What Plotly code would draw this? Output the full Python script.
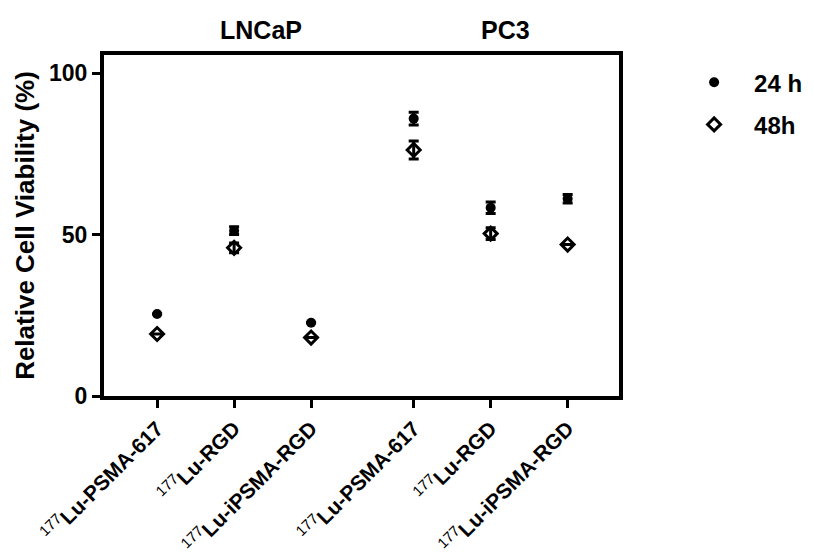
import plotly.graph_objects as go

categories = ["Lu-PSMA-617", "Lu-RGD", "Lu-iPSMA-RGD",
              "Lu-PSMA-617", "Lu-RGD", "Lu-iPSMA-RGD"]
isotope = "177"
x_pos = [0, 1, 2, 3.333, 4.333, 5.333]
groups = ["LNCaP", "PC3"]
group_x = [1.35, 4.52]

v24 = [25.4, 51.2, 22.7, 85.9, 58.3, 61.1]
e24 = [None, 1.2, None, 2.0, 1.8, 1.3]
v48 = [19.2, 45.9, 18.1, 76.2, 50.3, 46.9]
e48 = [None, 1.5, None, 2.8, 1.8, None]

FONT = "Liberation Sans, Arial, sans-serif"

fig = go.Figure()
fig.add_trace(go.Scatter(
    x=x_pos, y=v24, mode="markers", name="<b>24 h</b>", legendgroup="a",
    marker=dict(symbol="circle", size=10, color="black"),
    error_y=dict(type="data", array=e24, color="black", thickness=3, width=5),
))
fig.add_trace(go.Scatter(
    x=x_pos, y=v48, mode="markers", name="<b>48h</b>", legendgroup="b",
    marker=dict(symbol="diamond-open", size=10, color="black", line=dict(width=3, color="black")),
    error_y=dict(type="data", array=e48, color="black", thickness=3, width=5),
))

for g, gx in zip(groups, group_x):
    fig.add_annotation(x=gx, xref="x", y=1.073, yref="paper", text=f"<b>{g}</b>",
                       showarrow=False, font=dict(size=25, color="black", family=FONT),
                       yanchor="middle")

fig.update_layout(
    width=814, height=558,
    margin=dict(l=104, r=195, t=55, b=162, autoexpand=False),
    paper_bgcolor="white", plot_bgcolor="white",
    font=dict(family=FONT, color="black"),
    showlegend=True,
    legend=dict(x=1.107, y=0.985, xanchor="left", yanchor="top",
                font=dict(size=24, color="black", family=FONT),
                traceorder="grouped", tracegroupgap=8, itemwidth=70),
    xaxis=dict(
        range=[-0.69, 6.0], tickvals=x_pos, automargin=False,
        ticktext=[f"<sup>{isotope}</sup><b>{c}</b>" for c in categories],
        tickangle=-45, showline=True, linecolor="black", linewidth=4, mirror=True,
        ticks="outside", ticklen=8, tickwidth=3, tickcolor="black",
        showgrid=False, zeroline=False, tickfont=dict(size=21, color="black", family=FONT),
    ),
    yaxis=dict(
        range=[0, 105.6], tickvals=[0, 50, 100], ticktext=["<b>0</b>", "<b>50</b>", "<b>100</b>"],
        showline=True, linecolor="black", linewidth=4, mirror=True, automargin=False,
        ticks="outside", ticklen=8, tickwidth=3, tickcolor="black",
        showgrid=False, zeroline=False, tickfont=dict(size=23, color="black", family=FONT),
        title=dict(text="<b>Relative Cell Viability (%)</b>", font=dict(size=26, color="black", family=FONT), standoff=8),
    ),
)

fig.write_html("out.html")
